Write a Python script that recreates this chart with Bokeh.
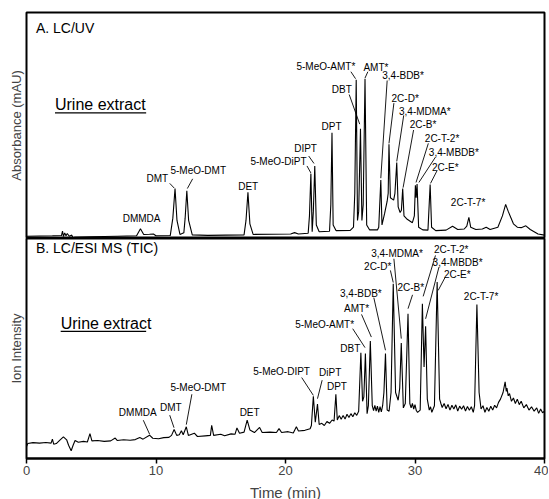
from bokeh.plotting import figure
from bokeh.layouts import column
from bokeh.models import Range1d, FixedTicker
from bokeh.core.properties import value
from bokeh.embed import file_html
from bokeh.resources import INLINE

FONT = "Liberation Sans"

# ---- Panel A: LC/UV trace (time in min, relative absorbance) ----
uv_time = [0.0, 2.0, 2.7, 2.78, 2.85, 2.95, 3.05, 3.15, 3.3, 3.5, 3.6, 3.7, 5.0, 7.0,
           8.5, 8.8, 9.05, 9.5, 9.8, 10.0, 11.1, 11.3, 11.47, 11.62, 11.85, 12.15, 12.25,
           12.38, 12.52, 12.8, 14.0, 16.8, 16.95, 17.1, 17.25, 17.5, 20.4, 20.7, 21.0,
           21.75, 21.85, 21.96, 22.06, 22.15, 22.26, 22.38, 22.6, 23.4, 23.5, 23.59, 23.68,
           23.9, 25.0, 25.25, 25.35, 25.46, 25.56, 25.65, 25.79, 25.9, 26.0, 26.14, 26.27,
           26.5, 27.1, 27.2, 27.36, 27.45, 27.65, 27.85, 27.93, 27.99, 28.1, 28.35, 28.45,
           28.59, 28.7, 28.85, 28.95, 29.05, 29.15, 29.4, 29.8, 29.95, 30.03, 30.09, 30.16,
           30.28, 30.6, 31.0, 31.07, 31.17, 31.28, 31.6, 32.4, 32.9, 33.3, 33.8, 34.0, 34.16,
           34.3, 34.7, 35.2, 35.5, 35.8, 36.4, 36.75, 37.0, 37.2, 37.6, 37.9, 38.2, 38.56,
           38.9, 39.5, 40.0]
uv_signal = [1.0, 1.2, 1.3, 3.3, 0.9, 2.5, 1.2, 2.2, 1.0, 1.5, 0.0, 0.5, 0.8, 1.0,
             1.2, 4.3, 1.8, 1.9, 2.0, 1.2, 1.3, 9.0, 22.1, 8.0, 1.8, 2.5, 9.0,
             21.1, 8.0, 1.6, 1.4, 1.6, 8.0, 20.4, 6.5, 1.8, 2.0, 2.6, 2.0,
             2.3, 10.0, 28.7, 3.0, 12.0, 32.1, 6.0, 3.0, 3.2, 15.0, 46.8, 6.0,
             3.5, 3.6, 5.0, 20.0, 70.2, 8.0, 12.0, 48.6, 8.0, 15.0, 70.7, 6.0,
             3.8, 3.8, 5.0, 25.9, 6.0, 11.0, 16.5, 20.0, 41.7, 18.0, 17.0, 20.0,
             33.6, 14.0, 11.5, 12.5, 22.1, 10.0, 8.5, 7.0, 10.0, 23.6, 18.0, 24.1,
             5.0, 3.8, 3.7, 12.0, 23.9, 5.0, 3.5, 3.7, 5.4, 4.0, 4.2, 5.5, 9.4,
             5.0, 4.0, 4.2, 5.0, 4.0, 5.0, 10.0, 15.1, 12.0, 6.5, 5.0, 4.8, 5.6,
             4.0, 2.0, 1.5]

# ---- Panel B: LC/ESI MS TIC trace ----
ms_time = [0.0, 0.1, 0.5, 1.0, 1.5, 1.9, 2.0, 2.1, 2.3, 2.6, 2.85, 3.1, 3.25, 3.45, 3.6,
           3.75, 4.0, 4.4, 4.7, 4.9, 5.05, 5.5, 6.0, 6.5, 6.85, 7.0, 7.5, 8.0, 8.4, 8.75,
           9.0, 9.5, 9.75, 10.2, 10.6, 11.0, 11.2, 11.4, 11.6, 11.8, 11.96, 12.1, 12.34,
           12.5, 12.96, 13.2, 13.8, 14.2, 14.3, 14.45, 15.0, 15.3, 15.8, 16.1, 16.25, 16.45,
           16.8, 17.04, 17.25, 17.6, 18.0, 18.2, 18.8, 19.3, 19.5, 19.7, 20.2, 20.6, 20.84,
           21.0, 21.5, 21.9, 22.0, 22.15, 22.3, 22.47, 22.6, 22.8, 23.0, 23.2, 23.4, 23.6,
           23.75, 23.89, 24.0, 24.15, 24.3, 24.45, 24.6, 24.75, 24.9, 25.05, 25.2, 25.35,
           25.5, 25.65, 25.82, 25.95, 26.05, 26.17, 26.3, 26.4, 26.55, 26.7, 26.8, 26.9,
           27.0, 27.1, 27.2, 27.3, 27.4, 27.5, 27.6, 27.72, 27.85, 28.0, 28.15, 28.32, 28.5,
           28.7, 28.82, 28.94, 29.1, 29.25, 29.46, 29.6, 29.7, 29.8, 29.9, 30.0, 30.1, 30.2,
           30.4, 30.57, 30.7, 30.82, 30.95, 31.1, 31.2, 31.3, 31.5, 31.71, 31.9, 32.0, 32.1,
           32.25, 32.4, 32.55, 32.7, 32.85, 33.0, 33.15, 33.3, 33.45, 33.6, 33.75, 33.9,
           34.05, 34.2, 34.35, 34.5, 34.6, 34.78, 34.95, 35.1, 35.25, 35.4, 35.55, 35.7,
           35.85, 36.0, 36.15, 36.3, 36.45, 36.6, 36.8, 36.96, 37.05, 37.1, 37.2, 37.3, 37.45,
           37.6, 37.75, 37.9, 38.05, 38.2, 38.4, 38.6, 38.8, 39.0, 39.2, 39.4, 39.55, 39.7,
           39.85, 40.0]
ms_signal = [5.5, 6.8, 7.2, 7.0, 7.3, 7.0, 8.8, 6.5, 6.8, 8.5, 9.8, 8.5, 6.0, 3.5, 6.0,
             8.2, 7.4, 7.8, 7.5, 11.3, 8.0, 8.2, 7.8, 8.0, 9.3, 8.2, 8.5, 8.3, 8.6, 9.5,
             8.8, 10.6, 9.2, 9.0, 9.5, 9.6, 10.5, 13.2, 10.5, 10.8, 12.6, 10.8, 14.4,
             10.5, 11.5, 10.0, 10.3, 10.5, 15.1, 10.5, 11.0, 10.3, 11.2, 11.0, 13.9, 11.5,
             12.0, 17.4, 13.0, 11.8, 14.1, 11.8, 12.0, 11.8, 13.6, 11.8, 12.2, 11.6, 14.4,
             12.5, 12.8, 13.5, 15.0, 28.3, 16.5, 24.7, 15.5, 16.0, 15.0, 16.8, 16.0, 17.5,
             17.0, 29.2, 17.5, 19.5, 17.8, 19.6, 17.9, 20.1, 18.6, 20.4, 19.0, 20.8,
             19.6, 21.5, 48.1, 26.0, 28.0, 47.7, 20.4, 24.0, 53.4, 24.0, 21.8, 24.1,
             21.5, 23.8, 21.0, 23.6, 21.2, 24.0, 30.0, 47.7, 22.0, 21.5, 30.0, 79.4, 30.0,
             26.5, 32.0, 52.5, 23.0, 25.0, 65.8, 25.0, 23.0, 25.0, 22.5, 24.5, 21.8, 21.0,
             22.0, 70.3, 41.6, 60.1, 27.0, 22.0, 23.5, 21.0, 24.0, 80.2, 27.0, 25.0, 23.2,
             25.0, 22.6, 24.6, 22.0, 24.2, 22.5, 24.4, 21.6, 23.8, 22.4, 24.0, 21.6,
             23.6, 21.9, 23.5, 21.0, 24.0, 70.0, 30.0, 22.5, 24.0, 21.0, 23.2, 21.5,
             23.8, 22.0, 24.2, 23.0, 25.5, 27.0, 30.0, 34.8, 30.5, 32.0, 28.5, 29.5, 26.0,
             27.5, 25.0, 27.0, 24.5, 26.0, 23.0, 24.5, 22.0, 23.5, 21.5, 23.0, 20.5, 22.5,
             20.8, 21.5]

# ---- Peak labels, panel A ----
uv_names = ["DMMDA", "DMT", "5-MeO-DMT", "DET", "5-MeO-DiPT", "DIPT", "DPT", "5-MeO-AMT*",
            "AMT*", "DBT", "3,4-BDB*", "2C-D*", "3,4-MDMA*", "2C-B*", "2C-T-2*",
            "3,4-MBDB*", "2C-E*", "2C-T-7*"]
uv_label_x = [8.89, 10.1, 13.26, 17.12, 19.46, 21.55, 23.56, 23.12, 26.98, 24.35, 29.08,
              29.24, 30.76, 30.62, 32.09, 33.0, 32.34, 34.1]
uv_label_y = [8.95, 26.4, 30.2, 22.8, 34.1, 39.8, 49.4, 76.1, 75.6, 66.0, 72.2, 61.9,
              56.3, 50.3, 44.4, 38.0, 31.3, 15.9]
uv_lead_x0 = [11.06, 12.83, 21.66, 21.79, 25.05, 26.36, 24.92, 27.85, 28.37, 29.13, 29.89, 31.03, 31.58, 31.71]
uv_lead_y0 = [24.4, 26.4, 32.1, 36.5, 73.8, 73.8, 63.7, 69.9, 59.9, 54.5, 48.0, 42.1, 36.0, 30.1]
uv_lead_x1 = [11.41, 12.42, 21.96, 22.2, 25.41, 26.14, 25.73, 27.36, 27.99, 28.59, 29.08, 30.08, 30.3, 31.2]
uv_lead_y1 = [22.3, 22.1, 29.0, 33.2, 70.7, 71.0, 50.6, 26.7, 42.1, 34.1, 22.5, 24.8, 24.8, 24.4]

# ---- Peak labels, panel B ----
ms_names = ["DMMDA", "DMT", "5-MeO-DMT", "DET", "5-MeO-DIPT", "DiPT", "DPT", "DBT",
            "5-MeO-AMT*", "AMT*", "3,4-BDB*", "2C-D*", "3,4-MDMA*", "2C-B*", "2C-T-2*",
            "3,4-MBDB*", "2C-E*", "2C-T-7*"]
ms_label_x = [8.59, 11.14, 13.26, 17.23, 19.7, 23.45, 23.97, 25.0, 23.02, 25.49, 25.82,
              27.12, 28.61, 29.67, 32.8, 33.29, 33.26, 35.1]
ms_label_y = [20.7, 23.4, 32.1, 20.9, 39.6, 39.3, 32.8, 49.9, 61.0, 68.4, 75.2, 87.4,
              93.0, 77.9, 95.0, 89.3, 83.5, 73.7]
ms_lead_x0 = [9.02, 11.06, 12.77, 21.25, 22.83, 25.19, 25.87, 26.82, 28.1, 28.37, 29.81, 31.58, 31.85, 32.34]
ms_lead_y0 = [17.4, 19.7, 29.2, 36.8, 35.6, 59.0, 65.5, 73.1, 85.5, 90.8, 74.4, 92.3, 87.0, 82.5]
ms_lead_x1 = [9.51, 11.39, 12.34, 22.15, 22.47, 26.14, 26.63, 27.72, 28.32, 28.94, 29.46, 30.63, 30.82, 31.79]
ms_lead_y1 = [11.0, 14.0, 15.4, 28.7, 27.2, 50.4, 55.2, 49.2, 80.0, 54.5, 68.1, 73.7, 63.5, 76.4]

panel_titles = ["A. LC/UV", "B. LC/ESI MS (TIC)"]
title_x = [0.73, 0.73]
title_y = [93.0, 95.5]
note_text = "Urine extract"
note_x = [2.2, 2.64]
note_y = [59.3, 61.3]
note_ul_x0 = [2.2, 2.64]
note_ul_x1 = [9.24, 9.24]
note_ul_y = [55.6, 57.8]

x_ticks = [0, 10, 20, 30, 40]


def make_panel(frame_h, border_bottom, border_top, ylabel):
    p = figure(frame_width=518, frame_height=frame_h, output_backend="svg",
               toolbar_location=None,
               x_range=Range1d(0, 40), y_range=Range1d(0, 100),
               min_border_left=26, min_border_right=4,
               min_border_top=border_top, min_border_bottom=border_bottom)
    p.grid.visible = False
    p.outline_line_color = "black"
    p.outline_line_width = 2
    p.background_fill_color = "white"
    p.border_fill_color = "white"
    p.yaxis.ticker = FixedTicker(ticks=[])
    p.yaxis.axis_line_color = None
    p.yaxis.major_tick_line_color = None
    p.yaxis.minor_tick_line_color = None
    p.yaxis.axis_label = ylabel
    p.yaxis.axis_label_text_font = FONT
    p.yaxis.axis_label_text_font_size = "13px"
    p.yaxis.axis_label_text_font_style = "normal"
    p.yaxis.axis_label_standoff = 3
    p.yaxis.major_label_standoff = 0
    return p


top = make_panel(226, 0, 12, "Absorbance (mAU)")
top.xaxis.visible = False
bot = make_panel(220, 40, 0, "Ion Intensity")

xa = bot.xaxis[0]
xa.ticker = FixedTicker(ticks=x_ticks)
xa.axis_line_width = 2
xa.major_tick_line_width = 1.5
xa.major_tick_in = 0
xa.major_tick_out = 5
xa.minor_tick_line_color = None
xa.major_label_text_font = FONT
xa.major_label_text_font_size = "13px"
xa.major_label_standoff = 2
xa.axis_label = "Time (min)"
xa.axis_label_text_font = FONT
xa.axis_label_text_font_size = "15px"
xa.axis_label_text_font_style = "normal"
xa.axis_label_standoff = 6

top.line(uv_time, uv_signal, line_color="black", line_width=1.1)
bot.line(ms_time, ms_signal, line_color="black", line_width=1.1)

for p, names, lx, ly, x0, y0, x1, y1, i in [
        (top, uv_names, uv_label_x, uv_label_y, uv_lead_x0, uv_lead_y0, uv_lead_x1, uv_lead_y1, 0),
        (bot, ms_names, ms_label_x, ms_label_y, ms_lead_x0, ms_lead_y0, ms_lead_x1, ms_lead_y1, 1)]:
    p.text(lx, ly, text=names, text_font=value(FONT), text_font_size="10px",
           text_align="center", text_baseline="middle", text_color="black")
    p.segment(x0, y0, x1, y1, line_color="black", line_width=0.9)
    p.text([title_x[i]], [title_y[i]], text=[panel_titles[i]], text_font=value(FONT),
           text_font_size="14px", text_align="left", text_baseline="middle")
    p.text([note_x[i]], [note_y[i]], text=[note_text], text_font=value(FONT),
           text_font_size="16px", text_align="left", text_baseline="middle")
    p.segment([note_ul_x0[i]], [note_ul_y[i]], [note_ul_x1[i]], [note_ul_y[i]],
              line_color="black", line_width=1.2)

layout = column(top, bot, spacing=0)
open("out.html", "w").write(file_html(layout, INLINE))
